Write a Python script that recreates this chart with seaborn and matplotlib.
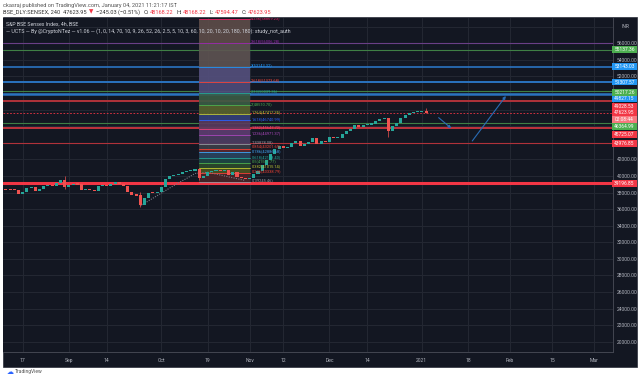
import numpy as np
import pandas as pd
import matplotlib
matplotlib.use("Agg")
import matplotlib.pyplot as plt
import seaborn as sns
from matplotlib.patches import Rectangle

# ---- data ----
holidays = ['2020-10-02', '2020-11-16', '2020-11-30', '2020-12-25']
first_day = '2020-08-11'
last_day = '2021-01-04'
first_open = 38420

closes = [
    # Aug
    38407, 38370, 38310, 37877, 38051, 38528, 38615, 38220, 38434, 38800,
    38844, 38843, 39113, 39467, 38628,
    # Sep
    38900, 39086, 38991, 38357, 38417, 38365, 38194, 38840, 38854, 38757,
    39044, 39303, 38980, 38845, 38034, 37734, 37668, 36553, 37388, 37982,
    37973, 38068,
    # Oct
    38697, 39574, 39974, 40079, 40182, 40509, 40593, 40625, 40794, 39728,
    39983, 40432, 40544, 40707, 40558, 40686, 40145, 40522, 39922, 39749,
    39614,
    # Nov
    39757, 40261, 40616, 41340, 41893, 42597, 43277, 43594, 43357, 43443,
    43953, 44180, 43599, 43882, 44077, 44523, 43828, 44260, 44150,
    # Dec
    44655, 44618, 44632, 45080, 45426, 45608, 46104, 45960, 46099, 46253,
    46263, 46666, 46890, 46961, 45400, 46007, 46444, 46974, 47354, 47613,
    47746, 47751,
    # Jan
    47869, 47623.95,
]

# a few long wicks visible on the chart
wick_dates = ['2020-08-31', '2020-09-24', '2020-10-15', '2020-12-21', '2021-01-04']
wick_high = [40010, 38010, 40850, 47050, 48168.22]
wick_low = [38400, 36300, 39550, 44650, 47594.47]

tick_dates = ['2020-08-17', '2020-09-01', '2020-09-14', '2020-10-01', '2020-10-19',
              '2020-11-02', '2020-11-12', '2020-12-01', '2020-12-14', '2021-01-01',
              '2021-01-18', '2021-02-01', '2021-02-15', '2021-03-01']
tick_labels = ['17', 'Sep', '14', 'Oct', '19', 'Nov', '12', 'Dec', '14', '2021',
               '18', 'Feb', '15', 'Mar']

price_ticks = list(range(20000, 58001, 2000))
hidden_price_ticks = [44000, 46000, 48000, 50000, 58000]

# fibonacci drawing
fib_start = '2020-10-15'
fib_end = '2020-11-02'
fib_ratios = [0, 0.236, 0.382, 0.5, 0.618, 0.786, 0.854, 1, 1.236, 1.382,
              1.618, 1.764, 2, 2.33, 2.618, 3, 3.618, 4.236]
fib_prices = [39245.46, 40338.79, 41015.14, 41561.77, 42108.40, 42886.68,
              43201.69, 43878.08, 44971.37, 45647.72, 46740.99, 47417.35,
              48510.70, 50039.36, 51373.68, 53143.32, 56006.28, 58869.23]
fib_colors = ['#9598a1', '#f44336', '#c0ca33', '#4caf50', '#26a69a', '#42a5f5',
              '#f44336', '#9598a1', '#ab47bc', '#ec407a', '#2962ff', '#c0ca33',
              '#4caf50', '#26a69a', '#f44336', '#2196f3', '#9c27b0', '#e91e63']
fib_band_colors = ['#4a2528', '#4b5220', '#2c4a2c', '#1e4744', '#2a4560', '#5a2a30',
                   '#3d3f48', '#4e3d63', '#5e3d72', '#5a3a5e', '#34417a', '#58642e',
                   '#3a5c45', '#4d4c7c', '#55507e', '#5e5452', '#5e4d4a']
# small vertical nudges (px) so the crowded labels do not sit on each other
fib_label_dy = [0, 0, -0.6, 0.3, 0, -1.2, 1.4, 0, 0, 0, -0.6, 0.6, 0, 0, 0, 0, 0, 0]

# horizontal rays across the chart
hl_prices = [56006.28, 55137.36, 53143.03, 51307.57, 50217.26, 49827.15,
             49028.53, 46364.99, 45725.07, 43976.85, 39196.85]
hl_colors = ['#6a3f86', '#3f7f45', '#2a73c0', '#2a73c0', '#3f7f45', '#2a73c0',
             '#b0323a', '#3f7f45', '#c0333d', '#b0323a', '#f23645']
hl_widths = [0.8, 0.8, 1.2, 1.4, 0.8, 1.8, 1.4, 0.8, 1.4, 0.8, 2.2]

# right-scale labels
axis_labels = ['55137.36', '53143.03', '51307.57', '50217.26', '49827.15', '49028.53',
               '47623.95', '02:08:44', '46364.99', '45725.07', '43976.85', '39196.85']
axis_label_colors = ['#4caf50', '#2196f3', '#2196f3', '#4caf50', '#2196f3', '#f23645',
                     '#f23645', '#f7787f', '#4caf50', '#f23645', '#f23645', '#f23645']
axis_label_ypx = [49.5, 66.5, 82, 92.5, 99, 106, 112.8, 119.8, 126.7, 134.7, 143.3, 183.3]

# UCTS trailing stop (dotted)
ucts_dates = ['2020-09-24', '2020-10-06', '2020-10-08', '2020-10-12', '2020-10-14',
              '2020-10-19', '2020-10-30']
ucts_values = [36400, 38550, 39150, 39700, 40300, 40450, 39450]

# hand-drawn arrows
arrow_starts = ['2021-01-07', '2021-01-19']
arrow_ends = ['2021-01-12', '2021-01-29']
arrow_from = [47030, 44220]
arrow_to = [45750, 49640]

BG = '#131722'
GRID = '#242833'
TXT = '#b2b5be'
UP = '#26a69a'
DOWN = '#ef5350'


def bar_index(d):
    return np.busday_count(first_day, np.array(d, dtype='datetime64[D]'), holidays=holidays)


sns.set_theme(style='dark', rc={'axes.facecolor': BG})
plt.rcParams['font.family'] = ['Roboto', 'DejaVu Sans']

days = pd.date_range(first_day, last_day, freq=pd.offsets.CustomBusinessDay(holidays=holidays))
df = pd.DataFrame({'day': days[:len(closes)], 'close': closes})
df['x'] = np.arange(len(df))
df['open'] = df['close'].shift(1).fillna(first_open)
df['up'] = df['close'] >= df['open']

W, H = 640, 378
fig = plt.figure(figsize=(W / 100, H / 100), dpi=100)
fig.patch.set_facecolor('white')
fig.add_artist(Rectangle((3 / W, 1 - 367 / H), 634 / W, 350 / H, transform=fig.transFigure,
                         facecolor=BG, edgecolor='#2a2e39', lw=0.5, zorder=-1))

ax = fig.add_axes([3 / W, 1 - 352 / H, 610 / W, 334 / H])
ax.set_facecolor(BG)
ax.set_xlim(-0.7, 144.5)
ax.set_ylim(18770, 59050)
px_price = (59050 - 18770) / 334   # price units per pixel

# grid and scales
ax.set_xticks(bar_index(tick_dates))
ax.set_xticklabels(tick_labels)
ax.set_yticks(price_ticks)
ax.set_yticklabels(['' if p in hidden_price_ticks else f'{p:.2f}' for p in price_ticks])
ax.yaxis.tick_right()
ax.grid(True, color=GRID, lw=0.7)
ax.tick_params(axis='both', length=0, labelsize=3.6, labelcolor=TXT)
ax.tick_params(axis='y', pad=2.5)
ax.tick_params(axis='x', pad=4.5)
for s in ['left', 'top']:
    ax.spines[s].set_visible(False)
for s in ['right', 'bottom']:
    ax.spines[s].set_color('#434651')
    ax.spines[s].set_linewidth(0.7)
ax.set_xlabel('')
ax.set_ylabel('')

# horizontal rays
for p, c, w in zip(hl_prices, hl_colors, hl_widths):
    ax.axhline(p, color=c, lw=w, zorder=2)
ax.axhline(closes[-1], color='#f23645', lw=0.6, ls=(0, (2, 2)), zorder=2)

# fib box
fx0, fx1 = bar_index(fib_start), bar_index(fib_end)
for i in range(len(fib_prices) - 1):
    ax.fill_between([fx0, fx1], fib_prices[i], fib_prices[i + 1],
                    color=fib_band_colors[i], alpha=0.9, lw=0, zorder=2.5)
for r, p, c, dy in zip(fib_ratios, fib_prices, fib_colors, fib_label_dy):
    ax.plot([fx0, fx1], [p, p], color=c, lw=0.6, zorder=2.6)
    ax.text(fx1 + 0.4, p + (1.6 + dy) * px_price, f'{r:g}({p:.2f})', color=c,
            fontsize=2.9, va='center', ha='left', zorder=6, clip_on=True)

# candles: wicks, then bodies (tiny bodies get a 1px minimum)
wx = bar_index(wick_dates)
ax.vlines(wx, wick_low, wick_high,
          colors=[UP if u else DOWN for u in df.set_index('x').loc[wx, 'up']],
          lw=0.5, zorder=3.4)
body_lo = np.minimum(df['open'], df['close'])
body_hi = np.maximum(df['open'], df['close'])
mid = (body_lo + body_hi) / 2
body_lo = np.minimum(body_lo, mid - 70)
body_hi = np.maximum(body_hi, mid + 70)
colors = np.where(df['up'], UP, DOWN)
ax.bar(df['x'], body_hi - body_lo, bottom=body_lo, width=0.72,
       color=colors, lw=0, zorder=3.5)

# UCTS dotted trailing line
sns.lineplot(x=bar_index(ucts_dates), y=ucts_values, ax=ax, color='#787b86',
             lw=0.8, linestyle=(0, (1, 1.2)), zorder=3)

# arrows
for s, e, y0, y1 in zip(arrow_starts, arrow_ends, arrow_from, arrow_to):
    ax.annotate('', xy=(bar_index(e), y1), xytext=(bar_index(s), y0),
                arrowprops=dict(arrowstyle='-|>', color='#2a6cb5', lw=0.8,
                                mutation_scale=4, shrinkA=0, shrinkB=0), zorder=5)

# right-scale labels
for t, c, ypx in zip(axis_labels, axis_label_colors, axis_label_ypx):
    fy = 1 - ypx / H
    fig.add_artist(Rectangle((612 / W, fy - 3.4 / H), 25 / W, 6.8 / H,
                             transform=fig.transFigure, facecolor=c, lw=0, zorder=5))
    fig.text(624.5 / W, fy, t, ha='center', va='center', fontsize=3.5,
             color='white', zorder=6)

fig.text(625 / W, 1 - 27 / H, 'INR', ha='center', va='center', fontsize=3.6, color=TXT)

# chart legend text
fig.text(6 / W, 1 - 24 / H, 'S&P BSE Sensex Index, 4h, BSE', fontsize=3.8,
         color='#d1d4dc', va='center')
fig.text(6 / W, 1 - 31 / H,
         '\u2014 UCTS \u2014 By @CryptoNTez \u2014 v1.06 \u2014 (1, 0, 14, 70, 10, 9, 26, 52, 26, 2.5, 5, 10, 3, 60, '
         '10, 20, 10, 20, 180, 180): study_not_auth', fontsize=3.75, color='#d1d4dc', va='center')

# header above the chart, laid out piece by piece
fig.text(3 / W, 1 - 5 / H, 'ckasraj published on TradingView.com, January 04, 2021 11:21:17 IST',
         fontsize=4.1, color='#555555', va='center')
hdr = [('BSE_DLY:SENSEX, 240  47623.95', '#333333'),
       ('\u25bc', '#f23645'),
       ('\u2212245.03 (\u22120.51%)', '#333333'),
       ('O:', '#333333'), ('48168.22', '#f23645'),
       ('H:', '#333333'), ('48168.22', '#f23645'),
       ('L:', '#333333'), ('47594.47', '#f23645'),
       ('C:', '#333333'), ('47623.95', '#f23645')]
renderer = fig.canvas.get_renderer()
x = 3.0
for t, c in hdr:
    fam = ['DejaVu Sans'] if t == '\u25bc' else ['Roboto', 'DejaVu Sans']
    txt = fig.text(x / W, 1 - 12 / H, t, fontsize=4.1, color=c, va='center', family=fam)
    bb = txt.get_window_extent(renderer)
    gap = 1.3 if t.endswith(':') else 2.8
    x = bb.x1 + gap

fig.text(7 / W, 1 - 372 / H, '\u2601', fontsize=5, color='#2962ff', va='center',
         family='DejaVu Sans')
fig.text(15 / W, 1 - 372 / H, 'TradingView', fontsize=3.6, color='#555555', va='center')

fig.savefig('out.png', dpi=100, facecolor='white')
